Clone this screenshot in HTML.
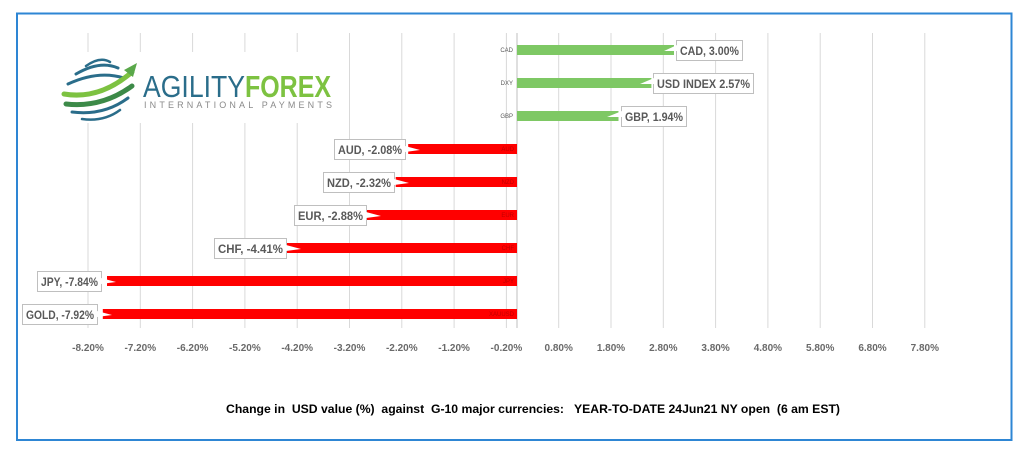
<!DOCTYPE html>
<html><head><meta charset="utf-8"><style>
html,body{margin:0;padding:0;background:#fff;}
svg{display:block;font-family:"Liberation Sans",Calibri,sans-serif;}
</style></head><body>
<svg width="1024" height="452" viewBox="0 0 1024 452" xmlns="http://www.w3.org/2000/svg">
<rect x="0" y="0" width="1024" height="452" fill="#fff"/>
<rect x="17" y="13.5" width="994.5" height="426.5" fill="none" stroke="#2e86d4" stroke-width="2"/>
<g stroke="#d9d9d9" stroke-width="1">
<line x1="88" y1="33" x2="88" y2="328"/><line x1="140.3" y1="33" x2="140.3" y2="328"/>
<line x1="192.6" y1="33" x2="192.6" y2="328"/><line x1="244.9" y1="33" x2="244.9" y2="328"/>
<line x1="297.2" y1="33" x2="297.2" y2="328"/><line x1="349.5" y1="33" x2="349.5" y2="328"/>
<line x1="401.8" y1="33" x2="401.8" y2="328"/><line x1="454.1" y1="33" x2="454.1" y2="328"/>
<line x1="506.4" y1="33" x2="506.4" y2="328"/><line x1="558.7" y1="33" x2="558.7" y2="328"/>
<line x1="611" y1="33" x2="611" y2="328"/><line x1="663.3" y1="33" x2="663.3" y2="328"/>
<line x1="715.6" y1="33" x2="715.6" y2="328"/><line x1="767.9" y1="33" x2="767.9" y2="328"/>
<line x1="820.2" y1="33" x2="820.2" y2="328"/><line x1="872.5" y1="33" x2="872.5" y2="328"/>
<line x1="924.8" y1="33" x2="924.8" y2="328"/>
</g>
<line x1="517" y1="33" x2="517" y2="328" stroke="#bfbfbf"/>
<!-- logo -->
<rect x="58" y="52" width="280" height="71" fill="#fff"/>
<g fill="none" stroke-linecap="round">
<path d="M86 66 Q100 56 110 62" stroke="#2a6d8a" stroke-width="2.5"/>
<path d="M76 74 Q100 60 118 68" stroke="#2a6d8a" stroke-width="3"/>
<path d="M68 84 Q98 70 124 78" stroke="#2a6d8a" stroke-width="3"/>
<path d="M64 94 Q100 100 132 72" stroke="#7dc241" stroke-width="5"/>
<path d="M66 104 Q102 108 132 86" stroke="#3c8a48" stroke-width="5"/>
<path d="M72 112 Q104 116 128 98" stroke="#2a6d8a" stroke-width="3"/>
<path d="M82 119 Q104 122 120 110" stroke="#2a6d8a" stroke-width="2.5"/>
</g>
<polygon points="124,70 137,63 133,77" fill="#5aa84a"/>
<text x="143" y="97" font-size="31" fill="#2a6d8a" textLength="102" lengthAdjust="spacingAndGlyphs">AGILITY</text>
<text x="245" y="97" font-size="31" font-weight="bold" fill="#7dc241" textLength="86" lengthAdjust="spacingAndGlyphs">FOREX</text>
<text x="144" y="108" font-size="9" fill="#8a8a8a" textLength="188" lengthAdjust="spacing">INTERNATIONAL PAYMENTS</text>
<!-- bars -->
<g fill="#7ec864">
<rect x="517" y="45" width="157" height="10"/>
<rect x="517" y="78" width="134.4" height="10"/>
<rect x="517" y="111" width="101.5" height="10"/>
</g>
<g fill="#ff0000">
<rect x="408.2" y="144" width="108.8" height="10"/>
<rect x="395.7" y="177" width="121.3" height="10"/>
<rect x="366.4" y="210" width="150.6" height="10"/>
<rect x="286.4" y="243" width="230.6" height="10"/>
<rect x="107" y="276" width="410" height="10"/>
<rect x="102.8" y="309" width="414.2" height="10"/>
</g>
<g font-size="6" fill="#595959" text-anchor="end">
<text x="513" y="52">CAD</text><text x="513" y="85">DXY</text><text x="513" y="118">GBP</text>
</g>
<g font-size="6" fill="#c00000" text-anchor="end">
<text x="514" y="151">AUD</text><text x="514" y="184">NZD</text><text x="514" y="217">EUR</text>
<text x="514" y="250">CHF</text><text x="514" y="283">JPY</text><text x="514" y="316">XAUUSD</text>
</g>
<!-- callouts -->
<g fill="#fff" stroke="#bfbfbf" stroke-width="1">
<rect x="676.5" y="40.5" width="66" height="20"/>
<rect x="653.5" y="73.5" width="100" height="20"/>
<rect x="621.5" y="106.5" width="65" height="20"/>
<rect x="334.5" y="139.5" width="71" height="20"/>
<rect x="323.5" y="172.5" width="71" height="20"/>
<rect x="294.5" y="205.5" width="72" height="20"/>
<rect x="214.5" y="238.5" width="72" height="20"/>
<rect x="37.5" y="271.5" width="64" height="20"/>
<rect x="22.5" y="304.5" width="75" height="20"/>
</g>
<g fill="#fff">
<polygon points="664,51 677,45 677,51"/><polygon points="640,84 654,78 654,84"/><polygon points="607,117 622,111 622,117"/>
<polygon points="405,146 420,150 405,152"/><polygon points="394,179 409,183 394,185"/><polygon points="366,212 381,216 366,218"/>
<polygon points="286,245 301,249 286,251"/><polygon points="101,278 116,282 101,284"/><polygon points="97,311 112,315 97,317"/>
</g>
<g font-size="12" font-weight="bold" fill="#595959" lengthAdjust="spacingAndGlyphs">
<text x="680" y="55" textLength="59" lengthAdjust="spacingAndGlyphs">CAD, 3.00%</text>
<text x="657" y="88" textLength="93" lengthAdjust="spacingAndGlyphs">USD INDEX 2.57%</text>
<text x="625" y="121" textLength="58" lengthAdjust="spacingAndGlyphs">GBP, 1.94%</text>
<text x="338" y="154" textLength="64" lengthAdjust="spacingAndGlyphs">AUD, -2.08%</text>
<text x="327" y="187" textLength="64" lengthAdjust="spacingAndGlyphs">NZD, -2.32%</text>
<text x="298" y="220" textLength="65" lengthAdjust="spacingAndGlyphs">EUR, -2.88%</text>
<text x="218" y="253" textLength="65" lengthAdjust="spacingAndGlyphs">CHF, -4.41%</text>
<text x="41" y="286" textLength="57" lengthAdjust="spacingAndGlyphs">JPY, -7.84%</text>
<text x="26" y="319" textLength="68" lengthAdjust="spacingAndGlyphs">GOLD, -7.92%</text>
</g>
<g font-size="10" font-weight="bold" fill="#6a6a6a" text-anchor="middle">
<text x="88" y="351">-8.20%</text><text x="140.3" y="351">-7.20%</text><text x="192.6" y="351">-6.20%</text>
<text x="244.9" y="351">-5.20%</text><text x="297.2" y="351">-4.20%</text><text x="349.5" y="351">-3.20%</text>
<text x="401.8" y="351">-2.20%</text><text x="454.1" y="351">-1.20%</text><text x="506.4" y="351">-0.20%</text>
<text x="558.7" y="351">0.80%</text><text x="611" y="351">1.80%</text><text x="663.3" y="351">2.80%</text>
<text x="715.6" y="351">3.80%</text><text x="767.9" y="351">4.80%</text><text x="820.2" y="351">5.80%</text>
<text x="872.5" y="351">6.80%</text><text x="924.8" y="351">7.80%</text>
</g>
<text x="226" y="413" font-size="12" font-weight="bold" fill="#000" textLength="614" lengthAdjust="spacingAndGlyphs" xml:space="preserve">Change in  USD value (%)  against  G-10 major currencies:   YEAR-TO-DATE 24Jun21 NY open  (6 am EST)</text>
</svg>
</body></html>
